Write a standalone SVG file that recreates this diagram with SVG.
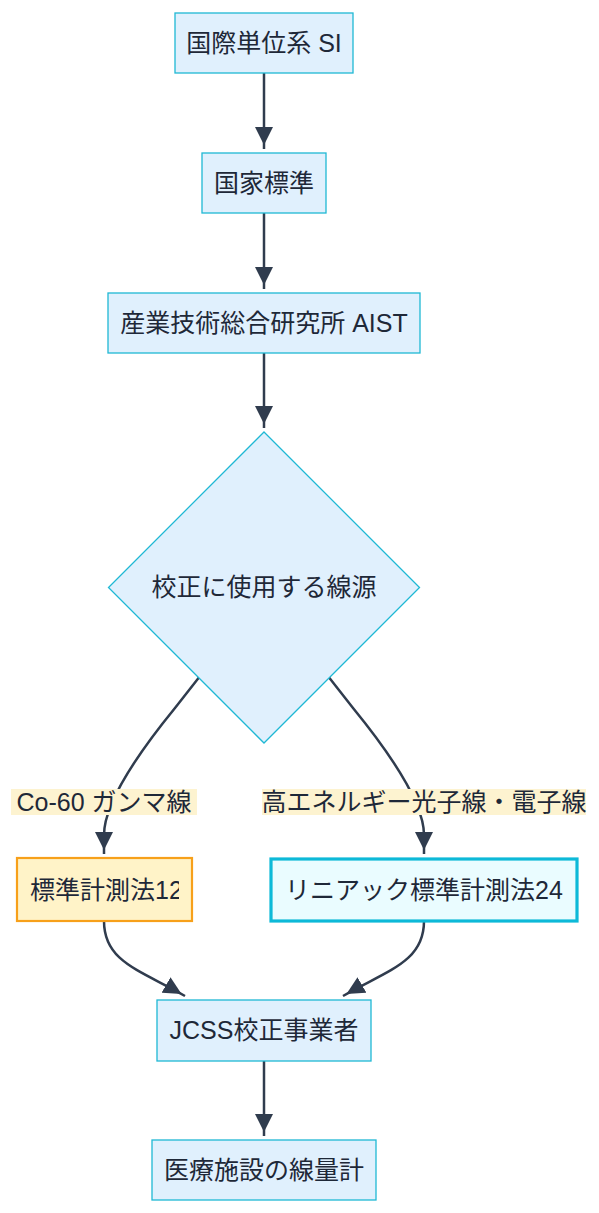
<svg xmlns="http://www.w3.org/2000/svg" width="599" height="1213" viewBox="0 0 599 1213">
<style>
.n{fill:#e0f0fd;stroke:#1fb8d4;stroke-width:1.3}
.t{font-family:"Liberation Sans","Noto Sans CJK JP",sans-serif;font-size:25px;fill:#1e2838;text-anchor:middle;dominant-baseline:central}
.e{fill:none;stroke:#303c4e;stroke-width:2.5}
.lb{fill:#fdf3d0}
</style>
<defs>
<marker id="arr" viewBox="0 0 10 10" refX="12.2" refY="5" markerWidth="18" markerHeight="18" markerUnits="userSpaceOnUse" orient="auto">
<path d="M0,0 L10,5 L0,10 z" fill="#303c4e"/>
</marker>
<clipPath id="c4"><rect x="18" y="859" width="161" height="61"/></clipPath>
</defs>
<g id="edges">
<path class="e" d="M264,73 L264,149" marker-end="url(#arr)"/>
<path class="e" d="M264,213 L264,289" marker-end="url(#arr)"/>
<path class="e" d="M264,353 L264,428" marker-end="url(#arr)"/>
<path class="e" d="M215,657 L175,708 Q104,795 104,835 L104,854" marker-end="url(#arr)"/>
<path class="e" d="M313,657 L353,708 Q424,795 424,835 L424,854" marker-end="url(#arr)"/>
<path class="e" d="M104,921 C104,962 140,970 185,996" marker-end="url(#arr)"/>
<path class="e" d="M424,921 C424,962 388,970 343,996" marker-end="url(#arr)"/>
<path class="e" d="M264,1061 L264,1136" marker-end="url(#arr)"/>
</g>
<g id="edge-labels">
<rect class="lb" x="11" y="789" width="186" height="26"/>
<text class="t" x="104" y="802">Co-60 ガンマ線</text>
<rect class="lb" x="262" y="789" width="324" height="26"/>
<text class="t" x="424" y="802">高エネルギー光子線・電子線</text>
</g>
<g id="n1"><rect class="n" x="175" y="13" width="178" height="60"/><text class="t" x="264" y="43">国際単位系 SI</text></g>
<g id="n2"><rect class="n" x="202" y="153" width="124" height="60"/><text class="t" x="264" y="183">国家標準</text></g>
<g id="n3"><rect class="n" x="108" y="293" width="312" height="60"/><text class="t" x="264" y="323">産業技術総合研究所 AIST</text></g>
<g id="n4"><polygon class="n" points="264,432 419.5,587.5 264,743 108.5,587.5"/><text class="t" x="264" y="587">校正に使用する線源</text></g>
<g id="n5"><rect x="17" y="858" width="175" height="63" fill="#fff3c8" stroke="#f7a01a" stroke-width="2.2"/><text class="t" x="30" y="890" style="text-anchor:start" clip-path="url(#c4)">標準計測法12</text></g>
<g id="n6"><rect x="271" y="859" width="306" height="62" fill="#eafcff" stroke="#0db9d8" stroke-width="3.2"/><text class="t" x="424" y="890">リニアック標準計測法24</text></g>
<g id="n7"><rect class="n" x="157" y="1000" width="214" height="61"/><text class="t" x="264" y="1030">JCSS校正事業者</text></g>
<g id="n8"><rect class="n" x="152" y="1140" width="224" height="60"/><text class="t" x="264" y="1170">医療施設の線量計</text></g>
</svg>
